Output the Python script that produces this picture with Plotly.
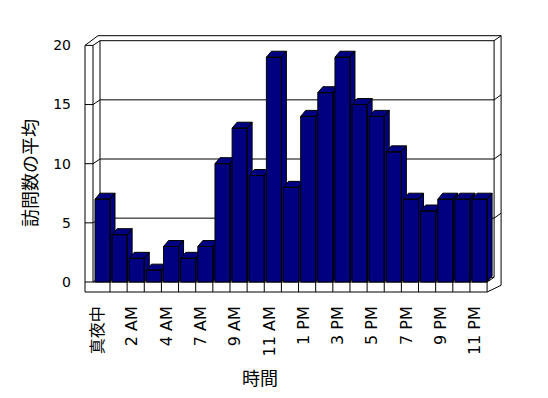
import plotly.graph_objects as go

# ---- data ----
CATEGORIES = ["真夜中", "1 AM", "2 AM", "3 AM", "4 AM", "5 AM", "7 AM", "8 AM", "9 AM",
              "10 AM", "11 AM", "正午", "1 PM", "2 PM", "3 PM", "4 PM", "5 PM", "6 PM",
              "7 PM", "8 PM", "9 PM", "10 PM", "11 PM"]
VALUES = [7, 4, 2, 1, 3, 2, 3, 10, 13, 9, 19, 8, 14, 16, 19, 15, 14, 11, 7, 6, 7, 7, 7]
Y_TICKS = [0, 5, 10, 15, 20]
X_TITLE = "時間"
Y_TITLE = "訪問数の平均"

# ---- layout geometry (pixels) ----
W, H = 548, 398
L, R, T, B = 80, 510, 30, 296
X_UNIT = 17.14      # px per category
Y_UNIT = 11.83      # px per value unit
X_ORIGIN = 98.0     # px of category 0 (label position)
Y_ORIGIN = 282.0    # px of value 0 (front plane)

def dx(p):  # pixel offset -> data offset (x)
    return p / X_UNIT

def dy(p):  # pixel offset -> data offset (y)
    return p / Y_UNIT

x_range = [(L - X_ORIGIN) / X_UNIT, (R - X_ORIGIN) / X_UNIT]
y_range = [(Y_ORIGIN - B) / Y_UNIT, (Y_ORIGIN - T) / Y_UNIT]

NAVY = "#000080"
BAR_L, BAR_R = dx(-3), dx(12)        # bar front face relative to category
BAR_DX, BAR_DY = dx(5), dy(6)        # bar depth offset

# frame geometry (data units)
n = len(VALUES)
WALL_OUT = dx(-13)                   # left wall outer edge
WALL_IN = dx(-5)                     # left wall inner (front plane left)
RIGHT_IN = (n - 1) + BAR_R           # front plane right
DEP_X, DEP_Y = dx(7), dy(4.7)        # depth of floor/left wall
THK_X, THK_Y = dx(7), dy(5)          # back wall thickness offset
FLOOR_T = dy(10)                     # floor thickness
YMAX = max(Y_TICKS)

fig = go.Figure()

# bars as 3D blocks
for i, v in enumerate(VALUES):
    x0, x1 = i + BAR_L, i + BAR_R
    xs = [x0, x0, x1, x1, x0, None,
          x0, x0 + BAR_DX, x1 + BAR_DX, x1, x0, None,
          x1, x1 + BAR_DX, x1 + BAR_DX, x1, x1]
    ys = [0, v, v, 0, 0, None,
          v, v + BAR_DY, v + BAR_DY, v, v, None,
          0, BAR_DY, v + BAR_DY, v, 0]
    fig.add_trace(go.Scatter(x=xs, y=ys, mode="lines", fill="toself",
                             fillcolor=NAVY, line=dict(color="black", width=1),
                             hoverinfo="skip", showlegend=False))

# frame
line = dict(color="black", width=1)
segs = []
bx0 = WALL_IN + DEP_X           # back wall left
bx1 = RIGHT_IN + DEP_X          # back wall right
by0 = DEP_Y                     # back wall bottom
# outer outline
segs.append([(WALL_OUT, YMAX), (WALL_OUT, -FLOOR_T), (RIGHT_IN, -FLOOR_T),
             (bx1 + THK_X - dx(0), DEP_Y - FLOOR_T + dy(2)), (bx1 + THK_X, YMAX + DEP_Y + THK_Y),
             (bx0 + dx(-2), YMAX + DEP_Y + THK_Y), (WALL_OUT, YMAX)])
# left wall front
segs.append([(WALL_OUT, YMAX), (WALL_IN, YMAX), (bx0, YMAX + DEP_Y)])
segs.append([(WALL_IN, YMAX), (WALL_IN, 0)])
# back wall
segs.append([(bx0, by0), (bx0, YMAX + DEP_Y), (bx1, YMAX + DEP_Y), (bx1, by0), (bx0, by0)])
segs.append([(bx1, YMAX + DEP_Y), (bx1 + THK_X, YMAX + DEP_Y + THK_Y)])
# floor
segs.append([(WALL_OUT, 0), (RIGHT_IN, 0), (RIGHT_IN, -FLOOR_T)])
segs.append([(RIGHT_IN, 0), (bx1, by0)])
segs.append([(WALL_IN, 0), (bx0, by0)])
for k in range(n - 1):
    xk = k + BAR_R
    segs.append([(xk, 0), (xk, -FLOOR_T)])
# gridlines
for t in Y_TICKS[1:-1]:
    segs.append([(WALL_OUT, t), (WALL_IN, t), (bx0, t + DEP_Y), (bx1, t + DEP_Y),
                 (bx1 + THK_X, t + DEP_Y + THK_Y)])

shapes = []
for s in segs:
    path = "M " + " L ".join(f"{x:.4f},{y:.4f}" for x, y in s)
    shapes.append(dict(type="path", path=path, xref="x", yref="y",
                       line=line, layer="below"))

def px_paper(px):
    return (px - L) / (R - L)

def py_paper(py):
    return (B - py) / (B - T)

fig.update_layout(
    width=W, height=H, autosize=False,
    margin=dict(l=L, r=W - R, t=T, b=H - B, pad=0),
    paper_bgcolor="white", plot_bgcolor="white",
    showlegend=False,
    shapes=shapes,
    font=dict(family="DejaVu Sans, Noto Sans CJK JP", color="black"),
    xaxis=dict(range=x_range, showgrid=False, zeroline=False, showline=False,
               tickmode="array", tickvals=list(range(0, n, 2)),
               ticktext=CATEGORIES[::2], tickangle=-90, ticks="",
               tickfont=dict(size=16, family="DejaVu Sans, Noto Sans CJK JP"),
               ticklabelstandoff=6, fixedrange=True),
    yaxis=dict(range=y_range, showgrid=False, zeroline=False, showline=False,
               tickmode="array", tickvals=Y_TICKS, ticks="",
               tickfont=dict(size=14, family="DejaVu Sans"),
               ticklabelstandoff=8, fixedrange=True),
    annotations=[
        dict(text=X_TITLE, xref="paper", yref="paper", x=px_paper(260), y=py_paper(377),
             showarrow=False, xanchor="center", yanchor="middle",
             font=dict(size=18, family="Noto Sans CJK JP")),
        dict(text=Y_TITLE, xref="paper", yref="paper", x=px_paper(29), y=py_paper(173),
             showarrow=False, xanchor="center", yanchor="middle", textangle=-90,
             font=dict(size=18, family="Noto Sans CJK JP")),
    ],
)

fig.write_html("out.html")
